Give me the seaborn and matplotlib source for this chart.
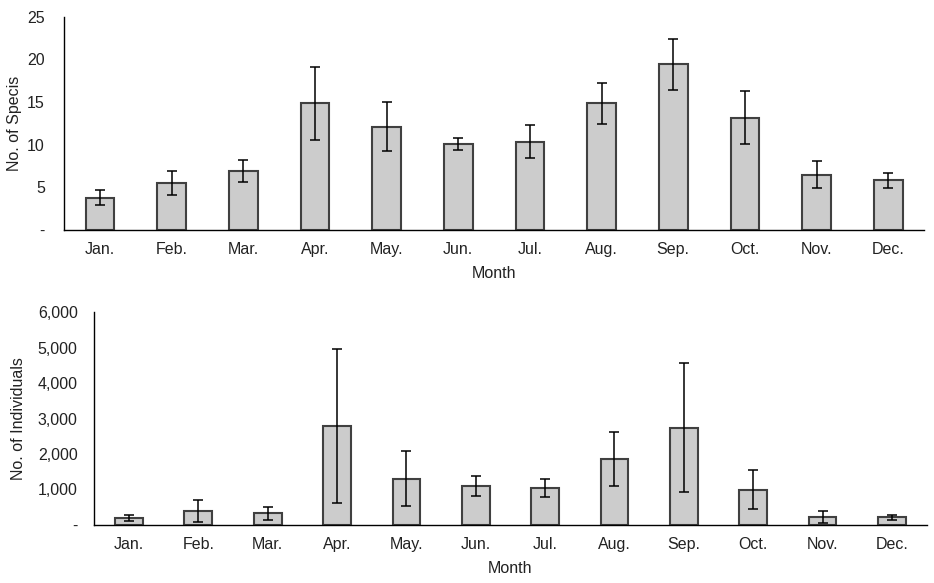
import pandas as pd
import numpy as np
import matplotlib
matplotlib.use('Agg')
import matplotlib.pyplot as plt
import seaborn as sns
from matplotlib.ticker import FuncFormatter, MultipleLocator

# data area
months = ['Jan.', 'Feb.', 'Mar.', 'Apr.', 'May.', 'Jun.', 'Jul.', 'Aug.', 'Sep.', 'Oct.', 'Nov.', 'Dec.']
species_mean = [3.8, 5.5, 6.9, 14.85, 12.1, 10.05, 10.35, 14.85, 19.4, 13.15, 6.5, 5.8]
species_err = [0.85, 1.45, 1.3, 4.3, 2.9, 0.7, 1.9, 2.4, 2.95, 3.1, 1.6, 0.9]
indiv_mean = [180, 390, 320, 2780, 1300, 1090, 1040, 1860, 2740, 990, 220, 210]
indiv_err = [80, 300, 190, 2170, 770, 280, 265, 770, 1830, 560, 160, 70]

sns.set_style('white')
plt.rcParams['font.family'] = ['Liberation Sans', 'DejaVu Sans']

fig = plt.figure(figsize=(9.34, 5.83), dpi=100)
ax1 = fig.add_axes([0.0688, 0.6055, 0.9205, 0.366])
ax2 = fig.add_axes([0.101, 0.100, 0.891, 0.3643])

def dash_zero(fmt):
    def f(v, pos):
        if abs(v) < 1e-9:
            return '-'
        return fmt.format(v)
    return FuncFormatter(f)

panels = [
    (ax1, species_mean, species_err, 'No. of Specis', 25, 5, dash_zero('{:.0f}'), 14),
    (ax2, indiv_mean, indiv_err, 'No. of Individuals', 6000, 1000, dash_zero('{:,.0f}'), 12),
]

fs = 11.5
for ax, mean, err, ylab, ymax, step, fmt, ypad in panels:
    df = pd.DataFrame({'Month': months, 'value': mean})
    sns.barplot(data=df, x='Month', y='value', ax=ax, color='#cccccc',
                edgecolor='#404040', linewidth=1.5, width=0.4, saturation=1)
    ax.errorbar(x=np.arange(len(months)), y=mean, yerr=err, fmt='none',
                ecolor='black', elinewidth=1.1, capsize=3.6, capthick=1.1)
    ax.set_xlim(-0.5, len(months) - 0.5)
    ax.set_ylim(0, ymax)
    ax.yaxis.set_major_locator(MultipleLocator(step))
    ax.yaxis.set_major_formatter(fmt)
    ax.set_xticks(np.arange(-0.5, len(months)), minor=True)
    ax.tick_params(axis='x', which='major', length=0, pad=9, labelsize=fs, colors='#222222')
    ax.tick_params(axis='x', which='minor', direction='in', length=4, width=1, color='black')
    ax.tick_params(axis='y', which='major', length=0, labelsize=fs,
                   labelcolor='#222222', pad=ypad)
    for s in ['top', 'right']:
        ax.spines[s].set_visible(False)
    for s in ['left', 'bottom']:
        ax.spines[s].set_color('black')
        ax.spines[s].set_linewidth(1)
    ax.set_xlabel('Month', fontsize=fs, color='#222222', labelpad=6)
    ax.set_ylabel(ylab, fontsize=fs, color='#222222')

ax1.yaxis.set_label_coords(-0.049, 0.5)
ax2.yaxis.set_label_coords(-0.082, 0.5)

fig.savefig('out.png', dpi=100)
